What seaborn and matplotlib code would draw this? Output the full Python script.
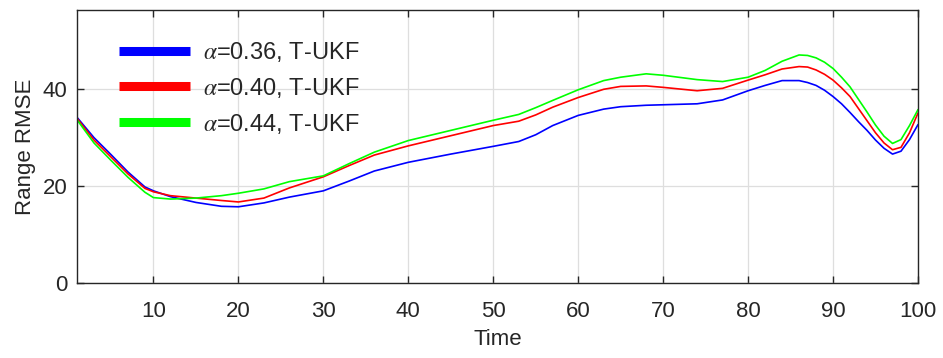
import matplotlib
matplotlib.use("Agg")
import matplotlib.pyplot as plt
from matplotlib.lines import Line2D
import seaborn as sns
import pandas as pd

time = [1, 3, 5, 7, 9, 10, 12, 15, 18, 20, 23, 26, 30, 33, 36, 40, 45, 50, 53, 55,
        57, 60, 63, 65, 68, 70, 74, 77, 80, 82, 84, 86, 87, 88, 89, 90, 91, 92, 93, 94,
        95, 96, 97, 98, 99, 100]

rmse_036 = [34.2, 30.0, 26.5, 22.9, 19.8, 19.0, 17.8, 16.6, 15.8, 15.7, 16.5, 17.7, 19.0, 21.0,
            23.1, 24.9, 26.6, 28.2, 29.2, 30.6, 32.5, 34.6, 35.9, 36.4, 36.7, 36.8, 37.0, 37.8,
            39.7, 40.8, 41.8, 41.8, 41.4, 40.8, 39.8, 38.5, 37.0, 35.2, 33.3, 31.5, 29.5, 27.8,
            26.6, 27.2, 29.6, 32.7]
rmse_040 = [34.0, 29.5, 26.0, 22.5, 19.5, 18.8, 18.0, 17.5, 17.0, 16.7, 17.5, 19.6, 21.9, 24.2,
            26.4, 28.3, 30.4, 32.5, 33.4, 34.7, 36.3, 38.3, 40.0, 40.6, 40.7, 40.4, 39.7, 40.2,
            41.9, 43.0, 44.2, 44.7, 44.6, 44.0, 43.1, 41.9, 40.3, 38.5, 36.0, 33.5, 31.0, 28.9,
            27.5, 28.0, 31.0, 35.1]
rmse_044 = [33.7, 28.9, 25.3, 21.8, 18.7, 17.6, 17.3, 17.5, 18.0, 18.5, 19.4, 20.9, 22.1, 24.6,
            27.0, 29.4, 31.5, 33.6, 34.8, 36.2, 37.7, 39.9, 41.8, 42.5, 43.2, 42.9, 42.0, 41.6,
            42.5, 43.9, 45.8, 47.1, 47.0, 46.5, 45.6, 44.3, 42.5, 40.5, 37.9, 35.3, 32.6, 30.3,
            28.8, 29.6, 32.5, 35.8]

labels = [r'$\alpha$=0.36, T-UKF', r'$\alpha$=0.40, T-UKF', r'$\alpha$=0.44, T-UKF']
colors = ['#0000ff', '#ff0000', '#00ff00']
x_ticks = [10, 20, 30, 40, 50, 60, 70, 80, 90, 100]
y_ticks = [0, 20, 40]

sns.set_style("white")
plt.rcParams['font.family'] = ['Liberation Sans', 'DejaVu Sans']
plt.rcParams['mathtext.fontset'] = 'stix'

df = pd.concat([
    pd.DataFrame({'Time': time, 'RMSE': vals, 'series': lab})
    for vals, lab in zip([rmse_036, rmse_040, rmse_044], labels)
])

fig = plt.figure(figsize=(9.43, 3.58), dpi=100)
ax = fig.add_axes([77/943, 75.3/358, (918-77)/943, (282.7-10)/358])

sns.lineplot(data=df, x='Time', y='RMSE', hue='series', palette=colors,
             linewidth=1.2, ax=ax, legend=False)

ax.set_xlim(1, 100)
ax.set_ylim(0, 56.4)
ax.set_xticks(x_ticks)
ax.set_yticks(y_ticks)
dark = '#262626'
ax.grid(True, color='#dedede', linewidth=0.9)
ax.set_axisbelow(True)
for s in ax.spines.values():
    s.set_color(dark)
    s.set_linewidth(1.0)
ax.tick_params(direction='in', length=5, width=1.0, color=dark, labelcolor=dark,
               labelsize=16, top=True, right=True, bottom=True, left=True)
ax.tick_params(axis='x', pad=13)
ax.tick_params(axis='y', pad=7)
ax.set_xlabel('Time', fontsize=16, color=dark, labelpad=5)
ax.set_ylabel('Range RMSE', fontsize=16, color=dark, labelpad=5)

handles = [Line2D([0], [0], color=c, linewidth=6.5, solid_capstyle='butt') for c in colors]
leg = ax.legend(handles, labels, loc='upper left', bbox_to_anchor=(0.039, 0.925),
                frameon=False, fontsize=17, handlelength=3.0, handletextpad=0.55,
                labelspacing=0.5, borderaxespad=0)
for t in leg.get_texts():
    t.set_color(dark)

fig.savefig('out.png', dpi=100, facecolor='white')
